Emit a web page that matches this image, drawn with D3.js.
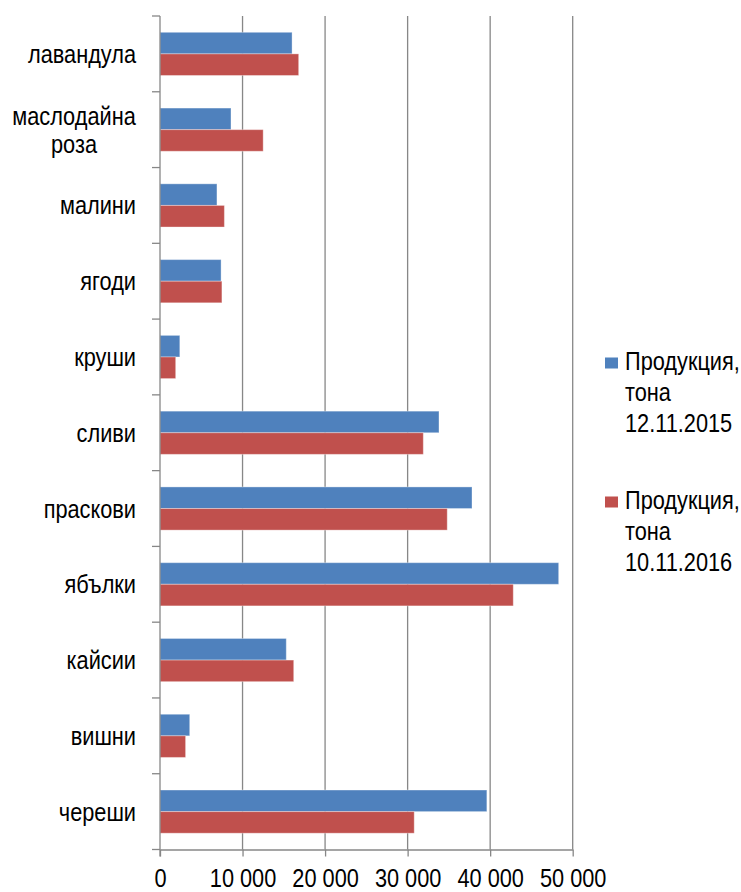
<!DOCTYPE html>
<html>
<head>
<meta charset="utf-8">
<script src="https://d3js.org/d3.v7.min.js"></script>
<style>
  body { margin: 0; background: #fff; }
  text { font-family: "Liberation Sans", Arial, sans-serif; fill: #000; }
</style>
</head>
<body>
<div id="chart"></div>
<script>
// categories, top to bottom
var categories = ["лавандула", "маслодайна роза", "малини", "ягоди", "круши", "сливи",
                  "праскови", "ябълки", "кайсии", "вишни", "череши"];
var prod2015 = [16000, 8600, 6900, 7400, 2400, 33800, 37800, 48300, 15300, 3600, 39600];
var prod2016 = [16800, 12500, 7800, 7500, 1900, 31900, 34800, 42800, 16200, 3100, 30800];
var seriesNames = [["Продукция,", "тона", "12.11.2015"], ["Продукция,", "тона", "10.11.2016"]];
var seriesColors = ["#4F81BD", "#C0504D"];
var xTicks = [0, 10000, 20000, 30000, 40000, 50000];

var width = 741, height = 892,
    plot = {left: 160, right: 572.7, top: 16, bottom: 849.5},
    squeeze = 0.87; // the text in the picture is horizontally compressed

var svg = d3.select("#chart").append("svg")
  .attr("width", width)
  .attr("height", height);

var x = d3.scaleLinear().domain([0, 50000]).range([plot.left, plot.right]);
var y0 = d3.scaleBand().domain(categories).range([plot.top, plot.bottom])
  .paddingInner(0.43).paddingOuter(0.215);
var y1 = d3.scaleBand().domain([0, 1]).range([0, y0.bandwidth()]);
var step = y0.step();

var fmt = function(d) { return d3.format(",")(d).replace(/,/g, " "); };

// vertical gridlines
svg.append("g").selectAll("line")
  .data(xTicks.slice(1))
  .enter().append("line")
  .attr("x1", d => x(d)).attr("x2", d => x(d))
  .attr("y1", plot.top).attr("y2", plot.bottom)
  .attr("stroke", "#878787").attr("stroke-width", 1.3);

// x axis
var xAxis = d3.axisBottom(x).tickValues(xTicks).tickSize(7).tickSizeOuter(0).tickFormat(fmt);
var gx = svg.append("g")
  .attr("transform", `translate(0,${plot.bottom})`)
  .call(xAxis);
gx.select(".domain").attr("stroke", "#878787").attr("stroke-width", 1.3);
gx.selectAll(".tick line").attr("stroke", "#878787").attr("stroke-width", 1.3);
gx.selectAll(".tick text")
  .attr("y", 37.5)
  .attr("dy", 0)
  .attr("transform", `scale(${squeeze},1)`)
  .style("font-size", "25px")
  .style("font-family", '"Liberation Sans", Arial, sans-serif')
  .attr("fill", "#000");

// bars
var groups = svg.selectAll(".cat")
  .data(categories)
  .enter().append("g")
  .attr("class", "cat")
  .attr("transform", d => `translate(0,${y0(d)})`);

[prod2015, prod2016].forEach(function(vals, si) {
  groups.append("rect")
    .attr("x", x(0))
    .attr("y", y1(si))
    .attr("width", (d, i) => x(vals[i]) - x(0))
    .attr("height", y1.bandwidth())
    .attr("fill", seriesColors[si])
    .attr("stroke", "rgba(255,255,255,0.35)")
    .attr("stroke-width", 1);
});

// y axis line and ticks
svg.append("line")
  .attr("x1", plot.left).attr("x2", plot.left)
  .attr("y1", plot.top).attr("y2", plot.bottom + 7)
  .attr("stroke", "#878787").attr("stroke-width", 1.3);
svg.append("g").selectAll("line")
  .data(d3.range(categories.length + 1))
  .enter().append("line")
  .attr("x1", plot.left - 8).attr("x2", plot.left)
  .attr("y1", i => plot.top + i * step).attr("y2", i => plot.top + i * step)
  .attr("stroke", "#878787").attr("stroke-width", 1.3);

// category labels
svg.append("g").selectAll("text")
  .data(categories)
  .enter().append("text")
  .style("font-size", "25px")
  .each(function(d) {
    var lines = d.split(" ");
    var cy = y0(d) + y0.bandwidth() / 2;
    var multi = lines.length > 1;
    var t = d3.select(this)
      .attr("text-anchor", multi ? "middle" : "end")
      .attr("transform", `translate(${multi ? 74 : 136},${cy}) scale(${squeeze},1)`);
    lines.forEach(function(l, k) {
      t.append("tspan")
        .attr("x", 0)
        .attr("y", (k - (lines.length - 1) / 2) * 28 + 9)
        .text(l);
    });
  });

// legend
var legend = svg.append("g");
seriesNames.forEach(function(lines, si) {
  var top = 358 + si * 139;
  legend.append("rect")
    .attr("x", 605).attr("y", top - 0.5)
    .attr("width", 13).attr("height", 11)
    .attr("fill", seriesColors[si]);
  var t = legend.append("text")
    .style("font-size", "25px")
    .attr("transform", `translate(625,${top}) scale(${squeeze},1)`);
  lines.forEach(function(l, k) {
    t.append("tspan")
      .attr("x", 0)
      .attr("y", 12 + k * 31)
      .text(l);
  });
});
</script>
</body>
</html>
